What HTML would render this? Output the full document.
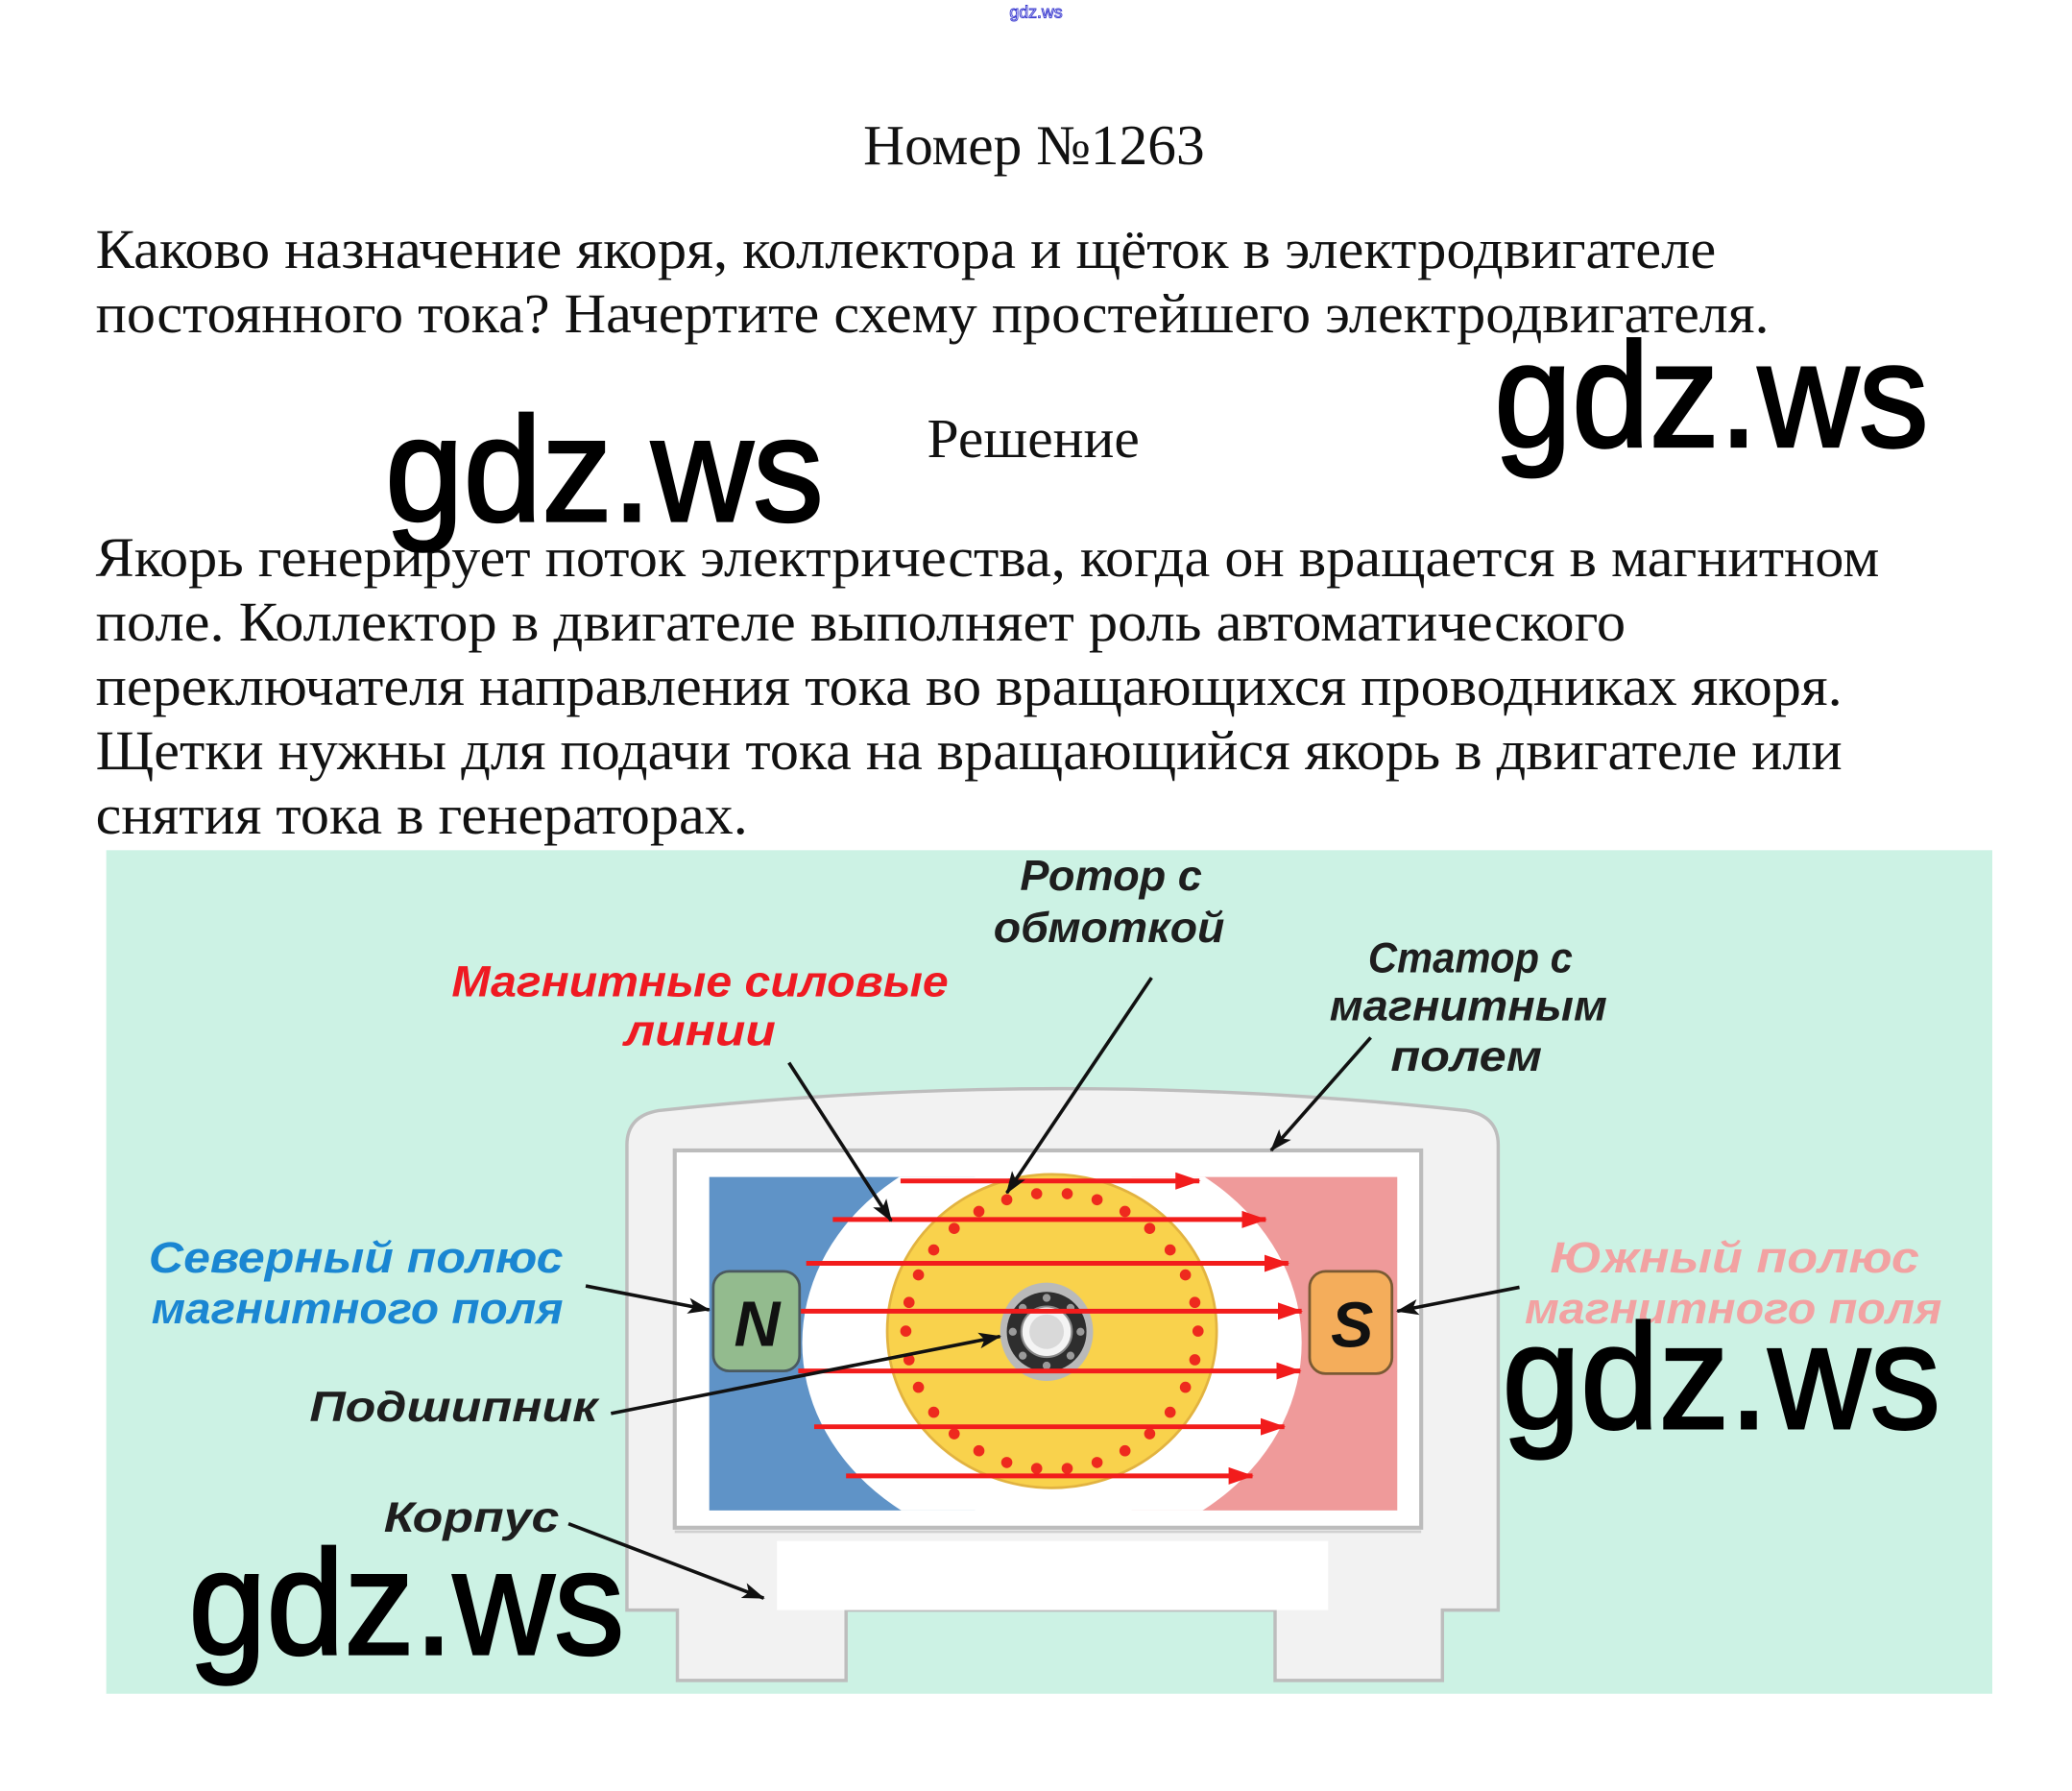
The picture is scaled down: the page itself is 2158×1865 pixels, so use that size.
<!DOCTYPE html>
<html>
<head>
<meta charset="utf-8">
<style>
  html,body{margin:0;padding:0;background:#fff;}
  body{width:2158px;height:1865px;overflow:hidden;}
  svg{display:block;}
  .serif{font-family:"Liberation Serif","Noto Serif CJK SC",serif;fill:#111;}
  .wm{font-family:"Liberation Sans","DejaVu Sans",sans-serif;fill:#000;stroke:#000;stroke-width:2;}
  .lbl{font-family:"Liberation Sans","DejaVu Sans",sans-serif;font-weight:bold;font-style:italic;}
</style>
</head>
<body>
<svg width="2158" height="1865" viewBox="0 0 1560 1348.2" xmlns="http://www.w3.org/2000/svg">
  <defs>
    <marker id="ab" markerUnits="userSpaceOnUse" markerWidth="18" markerHeight="14" refX="16" refY="7" orient="auto">
      <path d="M0,1 L17,7 L0,13 L4,7 Z" fill="#111"/>
    </marker>
    <marker id="ar" markerUnits="userSpaceOnUse" markerWidth="20" markerHeight="14" refX="18" refY="7" orient="auto">
      <path d="M0,0.5 L19,7 L0,13.5 Z" fill="#f21c1c"/>
    </marker>
    <clipPath id="magclip">
      <rect x="530" y="886" width="530" height="251"/>
    </clipPath>
  </defs>

  <!-- tiny top watermark -->
  <text x="760" y="13.5" font-family="Liberation Sans, sans-serif" font-size="13" fill="#fff" stroke="#3b3bd0" stroke-width="0.7" textLength="40" lengthAdjust="spacingAndGlyphs">gdz.ws</text>

  <!-- heading -->
  <text class="serif" x="650" y="123.6" font-size="42.5" textLength="257" lengthAdjust="spacingAndGlyphs">Номер №1263</text>

  <!-- question -->
  <text class="serif" x="72" y="201.7" font-size="42" textLength="1220" lengthAdjust="spacingAndGlyphs">Каково назначение якоря, коллектора и щёток в электродвигателе</text>
  <text class="serif" x="72" y="250" font-size="42" textLength="1260" lengthAdjust="spacingAndGlyphs">постоянного тока? Начертите схему простейшего электродвигателя.</text>

  <text class="serif" x="698" y="344" font-size="42" textLength="160" lengthAdjust="spacingAndGlyphs">Решение</text>

  <!-- answer -->
  <text class="serif" x="72" y="433.7" font-size="42" textLength="1343" lengthAdjust="spacingAndGlyphs">Якорь генерирует поток электричества, когда он вращается в магнитном</text>
  <text class="serif" x="72" y="482.2" font-size="42" textLength="1152" lengthAdjust="spacingAndGlyphs">поле. Коллектор в двигателе выполняет роль автоматического</text>
  <text class="serif" x="72" y="530.6" font-size="42" textLength="1315" lengthAdjust="spacingAndGlyphs">переключателя направления тока во вращающихся проводниках якоря.</text>
  <text class="serif" x="72" y="579" font-size="42" textLength="1315" lengthAdjust="spacingAndGlyphs">Щетки нужны для подачи тока на вращающийся якорь в двигателе или</text>
  <text class="serif" x="72" y="627.5" font-size="42" textLength="491" lengthAdjust="spacingAndGlyphs">снятия тока в генераторах.</text>

  <!-- diagram background -->
  <rect x="80" y="640" width="1420" height="635" fill="#ccf2e4"/>

  <!-- housing -->
  <path d="M472 1212 L472 862 Q472 840 496 836 Q800 803 1104 836 Q1128 840 1128 862 L1128 1212 L1086 1212 L1086 1265 L960 1265 L960 1212 L637 1212 L637 1265 L510 1265 L510 1212 Z"
        fill="#f2f2f2" stroke="#bdbdbd" stroke-width="2.5"/>

  <!-- inner frame -->
  <rect x="508" y="866" width="562" height="284" fill="#ffffff" stroke="#bcbcbc" stroke-width="3"/>
  <line x1="508" y1="1153" x2="1070" y2="1153" stroke="#d0d0d0" stroke-width="2"/>

  <!-- magnets -->
  <rect x="534" y="886" width="200" height="251" fill="#5f93c7"/>
  <rect x="852" y="886" width="200" height="251" fill="#ef9a9a"/>
  <ellipse cx="792" cy="1011" rx="188" ry="158" fill="#ffffff" clip-path="url(#magclip)"/>

  <!-- rotor -->
  <ellipse cx="792" cy="1002" rx="124" ry="118" fill="#f9d24c" stroke="#e2b340" stroke-width="2"/>

  <!-- winding dots -->
  <g fill="#ee2a1e">
    <circle cx="902" cy="1002" r="4.2"/>
    <circle cx="899.6" cy="1023.6" r="4.2"/>
    <circle cx="892.5" cy="1044.3" r="4.2"/>
    <circle cx="881" cy="1063.1" r="4.2"/>
    <circle cx="865.6" cy="1079.3" r="4.2"/>
    <circle cx="847" cy="1092.1" r="4.2"/>
    <circle cx="826" cy="1100.9" r="4.2"/>
    <circle cx="803.5" cy="1105.4" r="4.2"/>
    <circle cx="780.5" cy="1105.4" r="4.2"/>
    <circle cx="758" cy="1100.9" r="4.2"/>
    <circle cx="737" cy="1092.1" r="4.2"/>
    <circle cx="718.4" cy="1079.3" r="4.2"/>
    <circle cx="703" cy="1063.1" r="4.2"/>
    <circle cx="691.5" cy="1044.3" r="4.2"/>
    <circle cx="684.4" cy="1023.6" r="4.2"/>
    <circle cx="682" cy="1002" r="4.2"/>
    <circle cx="684.4" cy="980.4" r="4.2"/>
    <circle cx="691.5" cy="959.7" r="4.2"/>
    <circle cx="703" cy="940.9" r="4.2"/>
    <circle cx="718.4" cy="924.7" r="4.2"/>
    <circle cx="737" cy="911.9" r="4.2"/>
    <circle cx="758" cy="903.1" r="4.2"/>
    <circle cx="780.5" cy="898.6" r="4.2"/>
    <circle cx="803.5" cy="898.6" r="4.2"/>
    <circle cx="826" cy="903.1" r="4.2"/>
    <circle cx="847" cy="911.9" r="4.2"/>
    <circle cx="865.6" cy="924.7" r="4.2"/>
    <circle cx="881" cy="940.9" r="4.2"/>
    <circle cx="892.5" cy="959.7" r="4.2"/>
    <circle cx="899.6" cy="980.4" r="4.2"/>
  </g>

  <!-- bearing -->
  <ellipse cx="788" cy="1002.5" rx="35" ry="37" fill="#b9b9b9"/>
  <circle cx="788" cy="1002.5" r="30" fill="#2e2e2e"/>
  <g fill="#9a9a9a">
    <circle cx="788" cy="977" r="3"/><circle cx="806" cy="984.5" r="3"/><circle cx="813.5" cy="1002.5" r="3"/>
    <circle cx="806" cy="1020.5" r="3"/><circle cx="788" cy="1028" r="3"/><circle cx="770" cy="1020.5" r="3"/>
    <circle cx="762.5" cy="1002.5" r="3"/><circle cx="770" cy="984.5" r="3"/>
  </g>
  <circle cx="788" cy="1002.5" r="19" fill="#f4f4f4" stroke="#8a8a8a" stroke-width="1.5"/>
  <circle cx="788" cy="1002.5" r="13" fill="#d9d9d9"/>

  <!-- magnetic field lines -->
  <g stroke="#f21c1c" stroke-width="3.6" marker-end="url(#ar)">
    <line x1="678" y1="889" x2="903" y2="889"/>
    <line x1="627" y1="918" x2="953" y2="918"/>
    <line x1="607" y1="951" x2="970" y2="951"/>
    <line x1="601" y1="987" x2="980" y2="987"/>
    <line x1="601" y1="1032" x2="979" y2="1032"/>
    <line x1="613" y1="1074" x2="967" y2="1074"/>
    <line x1="637" y1="1111" x2="943" y2="1111"/>
  </g>

  <!-- N and S -->
  <rect x="537" y="957" width="65" height="75" rx="12" fill="#93bb8e" stroke="#4b5a60" stroke-width="2"/>
  <text x="570" y="1013" text-anchor="middle" font-family="Liberation Sans, sans-serif" font-weight="bold" font-style="italic" font-size="48" fill="#111">N</text>
  <rect x="986" y="957" width="62" height="77" rx="12" fill="#f4ad5b" stroke="#7a5a33" stroke-width="2"/>
  <text x="1018" y="1014" text-anchor="middle" font-family="Liberation Sans, sans-serif" font-weight="bold" font-style="italic" font-size="48" fill="#111">S</text>

  <!-- white patch -->
  <rect x="585" y="1160" width="415" height="52" fill="#ffffff"/>

  <!-- black pointer arrows -->
  <g stroke="#111" stroke-width="2.6" marker-end="url(#ab)" fill="none">
    <line x1="594" y1="800" x2="671" y2="919"/>
    <line x1="867" y1="736" x2="758" y2="898"/>
    <line x1="1032" y1="781" x2="957" y2="866"/>
    <line x1="441" y1="968" x2="534" y2="986"/>
    <line x1="1144" y1="969" x2="1052" y2="987"/>
    <line x1="460" y1="1064" x2="753" y2="1006"/>
    <line x1="428" y1="1147" x2="575" y2="1203"/>
  </g>

  <!-- labels -->
  <g class="lbl">
    <text x="768" y="670" font-size="32" fill="#1e1e1e" textLength="137" lengthAdjust="spacingAndGlyphs">Ротор с</text>
    <text x="748" y="709" font-size="32" fill="#1e1e1e" textLength="174" lengthAdjust="spacingAndGlyphs">обмоткой</text>

    <text x="340" y="750" font-size="33" fill="#ef1a22" textLength="374" lengthAdjust="spacingAndGlyphs">Магнитные силовые</text>
    <text x="470" y="787" font-size="33" fill="#ef1a22" textLength="114" lengthAdjust="spacingAndGlyphs">линии</text>

    <text x="1030" y="732" font-size="32" fill="#1e1e1e" textLength="154" lengthAdjust="spacingAndGlyphs">Статор с</text>
    <text x="1001" y="768" font-size="32" fill="#1e1e1e" textLength="209" lengthAdjust="spacingAndGlyphs">магнитным</text>
    <text x="1047" y="806" font-size="32" fill="#1e1e1e" textLength="114" lengthAdjust="spacingAndGlyphs">полем</text>

    <text x="112" y="958" font-size="33" fill="#1a86d2" textLength="312" lengthAdjust="spacingAndGlyphs">Северный полюс</text>
    <text x="114" y="996" font-size="33" fill="#1a86d2" textLength="310" lengthAdjust="spacingAndGlyphs">магнитного поля</text>

    <text x="1167" y="958" font-size="33" fill="#f2a2a2" textLength="278" lengthAdjust="spacingAndGlyphs">Южный полюс</text>
    <text x="1148" y="996" font-size="33" fill="#f2a2a2" textLength="314" lengthAdjust="spacingAndGlyphs">магнитного поля</text>

    <text x="233" y="1070" font-size="32" fill="#1e1e1e" textLength="217" lengthAdjust="spacingAndGlyphs">Подшипник</text>
    <text x="289" y="1153" font-size="32" fill="#1e1e1e" textLength="132" lengthAdjust="spacingAndGlyphs">Корпус</text>
  </g>

  <!-- big watermarks -->
  <text class="wm" x="290" y="392" font-size="112" textLength="330" lengthAdjust="spacingAndGlyphs">gdz.ws</text>
  <text class="wm" x="1125" y="336" font-size="112" textLength="327" lengthAdjust="spacingAndGlyphs">gdz.ws</text>
  <text class="wm" x="1131" y="1075" font-size="112" textLength="330" lengthAdjust="spacingAndGlyphs">gdz.ws</text>
  <text class="wm" x="142" y="1245" font-size="112" textLength="328" lengthAdjust="spacingAndGlyphs">gdz.ws</text>
</svg>
</body>
</html>
